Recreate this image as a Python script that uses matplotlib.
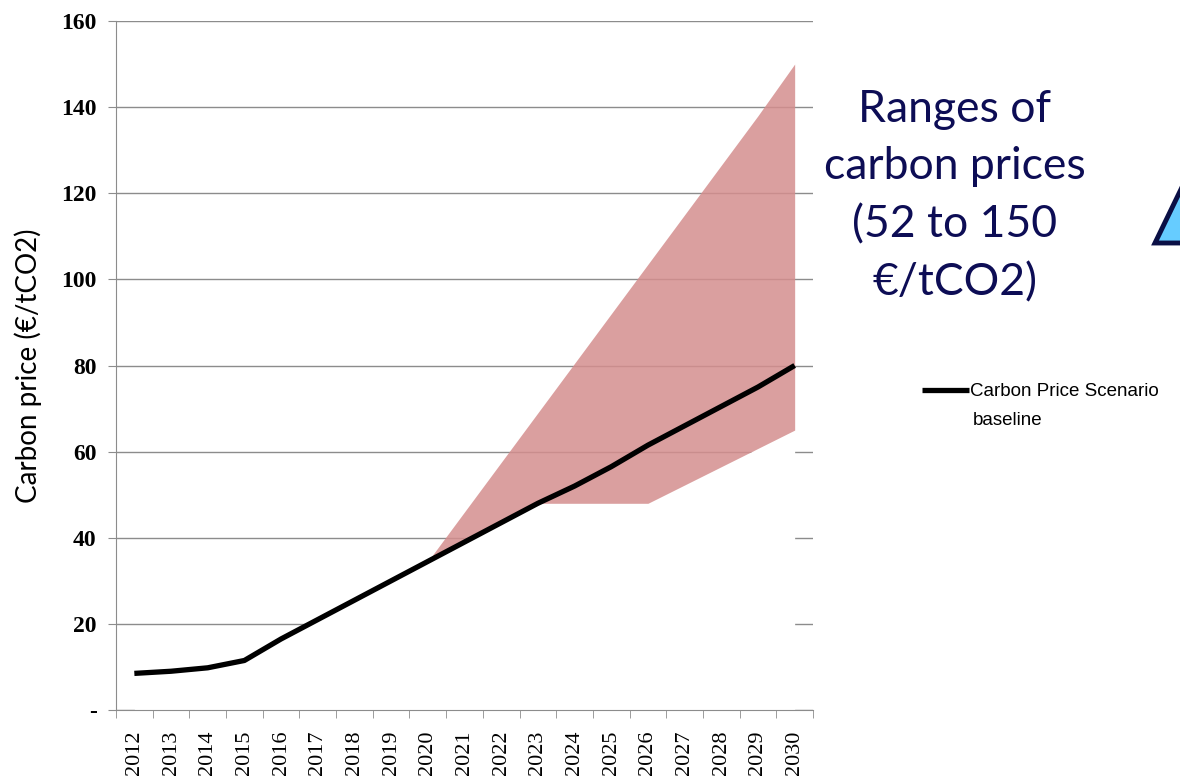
import matplotlib.pyplot as plt
from matplotlib.patches import Polygon

# carbon price scenarios, €/tCO2
years = ['2012', '2013', '2014', '2015', '2016', '2017', '2018', '2019', '2020', '2021',
         '2022', '2023', '2024', '2025', '2026', '2027', '2028', '2029', '2030']
baseline = [8.5, 9.0, 9.8, 11.5, 16.5, 21.0, 25.5, 30.0, 34.5, 39.0,
            43.5, 48.0, 52.0, 56.5, 61.5, 66.0, 70.5, 75.0, 80.0]
range_low = [8.5, 9.0, 9.8, 11.5, 16.5, 21.0, 25.5, 30.0, 34.5, 39.0,
             43.5, 48.0, 48.0, 48.0, 48.0, 52.25, 56.5, 60.75, 65.0]
range_high = [8.5, 9.0, 9.8, 11.5, 16.5, 21.0, 25.5, 30.0, 34.5, 46.0,
              57.5, 69.0, 80.5, 92.0, 103.5, 115.0, 126.5, 138.0, 150.0]
y_ticks = [0, 20, 40, 60, 80, 100, 120, 140, 160]
y_ticklabels = ['-', '20', '40', '60', '80', '100', '120', '140', '160']

fig = plt.figure(figsize=(11.8, 7.78), dpi=100)
ax = fig.add_axes([116 / 1180, 68 / 778, 697 / 1180, 689 / 778])

x = list(range(len(years)))
grid_c = '#8c8c8c'

# grid under everything, white area up to the lower bound hides it
ax.set_axisbelow(True)
ax.yaxis.grid(True, color=grid_c, linewidth=1.0)
ax.fill_between(x, 0, range_low, color='white', linewidth=0, zorder=1)
ax.fill_between(x, range_low, range_high, color='#d48e8e', alpha=0.85,
                linewidth=0, zorder=2)
ax.plot(x, baseline, color='black', linewidth=3.8, solid_capstyle='butt',
        label='Carbon Price Scenario', zorder=3)

ax.set_xlim(-0.5, len(years) - 0.5)
ax.set_ylim(0, 160)
ax.set_xticks(x)
ax.set_xticklabels(years, rotation=90, family='Liberation Serif', fontsize=16)
ax.set_xticks([i - 0.5 for i in range(len(years) + 1)], minor=True)
ax.tick_params(axis='x', which='major', length=0, pad=15)
ax.tick_params(axis='x', which='minor', length=6, color=grid_c, direction='out')
ax.set_yticks(y_ticks)
ax.set_yticklabels(y_ticklabels, family='Liberation Serif', fontweight='bold', fontsize=17)
ax.tick_params(axis='y', length=6, color=grid_c, pad=8)

for s in ['top', 'right']:
    ax.spines[s].set_visible(False)
for s in ['left', 'bottom']:
    ax.spines[s].set_color(grid_c)
    ax.spines[s].set_zorder(4)

ax.set_ylabel('Carbon price (€/tCO2)', family='Lato', fontsize=20, labelpad=14)

leg = ax.legend(loc='upper left', bbox_to_anchor=(922 / 1180, 1 - 383 / 778),
                bbox_transform=fig.transFigure, frameon=False, handlelength=2.5,
                handletextpad=0.05, borderpad=0, borderaxespad=0,
                prop={'family': 'Liberation Sans', 'size': 13.5})
fig.text(973 / 1180, 1 - 421 / 778, 'baseline', family='Liberation Sans', fontsize=13.5,
         va='center', ha='left')

fig.text(955 / 1180, 1 - 196 / 778, 'Ranges of\ncarbon prices\n(52 to 150\n€/tCO2)',
         family='Lato', fontsize=32, color='#0d0d55', ha='center', va='center',
         linespacing=1.5)

# arrow shape at the right edge
tri = Polygon([(1155 / 1180, 1 - 243 / 778), (1200 / 1180, 1 - 150 / 778),
               (1260 / 1180, 1 - 243 / 778)], closed=True, transform=fig.transFigure,
              facecolor='#66ccff', edgecolor='#0a0f45', linewidth=3.5, joinstyle='miter')
fig.patches.append(tri)

fig.savefig('out.png', dpi=100)
